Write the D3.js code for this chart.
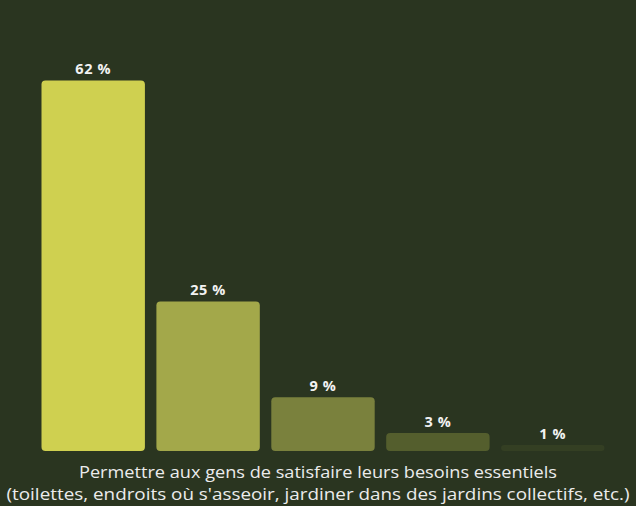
<!DOCTYPE html>
<html>
<head>
<meta charset="utf-8">
<script src="https://cdn.jsdelivr.net/npm/d3@7"></script>
<style>
  html, body { margin: 0; padding: 0; background: #2a3520; }
  svg { display: block; }
</style>
</head>
<body>
<svg id="chart" width="636" height="506"></svg>
<script>
// Response categories and their shares (%)
const categories = ["a", "b", "c", "d", "e"];
const values = [62, 25, 9, 3, 1];
const barColors = ["#cfd050", "#a3a84a", "#7a813d", "#545e2d", "#343f23"];
const captionLines = [
  "Permettre aux gens de satisfaire leurs besoins essentiels",
  "(toilettes, endroits où s'asseoir, jardiner dans des jardins collectifs, etc.)"
];

const W = 636, H = 506;
const svg = d3.select("#chart");

svg.append("rect").attr("width", W).attr("height", H).attr("fill", "#2a3520");

const x = d3.scaleBand()
  .domain(categories)
  .range([41.5, 604.5])
  .paddingInner(0.1)
  .paddingOuter(0);

const y = d3.scaleLinear()
  .domain([0, 62])
  .range([451, 80.5]);

const data = categories.map((c, i) => ({ c, v: values[i], color: barColors[i] }));

svg.append("g").selectAll("rect")
  .data(data)
  .join("rect")
  .attr("x", d => x(d.c))
  .attr("y", d => y(d.v))
  .attr("width", x.bandwidth())
  .attr("height", d => y(0) - y(d.v))
  .attr("rx", d => Math.min(4, (y(0) - y(d.v)) / 2))
  .attr("fill", d => d.color);

svg.append("g").selectAll("text")
  .data(data)
  .join("text")
  .attr("x", d => x(d.c) + x.bandwidth() / 2)
  .attr("y", d => y(d.v) - 6.5)
  .attr("text-anchor", "middle")
  .attr("fill", "#f2f2f2")
  .attr("font-family", "'Open Sans', Lato, sans-serif")
  .attr("font-weight", 700)
  .attr("font-size", 14.5)
  .attr("letter-spacing", 0.6)
  .text(d => d.v + " %");

const cap = svg.append("g");
const targetWidths = [478, 623];
captionLines.forEach((line, i) => {
  const t = cap.append("text")
    .attr("x", 318)
    .attr("y", 477.5 + i * 22)
    .attr("text-anchor", "middle")
    .attr("fill", "#ececec")
    .attr("font-family", "'Open Sans', Lato, sans-serif")
    .attr("font-weight", 500)
    .attr("font-size", 16)
    .text(line);
  const w = t.node().getComputedTextLength();
  if (Math.abs(w - targetWidths[i]) > 4) {
    t.attr("textLength", targetWidths[i]).attr("lengthAdjust", "spacingAndGlyphs");
  }
});
</script>
</body>
</html>
